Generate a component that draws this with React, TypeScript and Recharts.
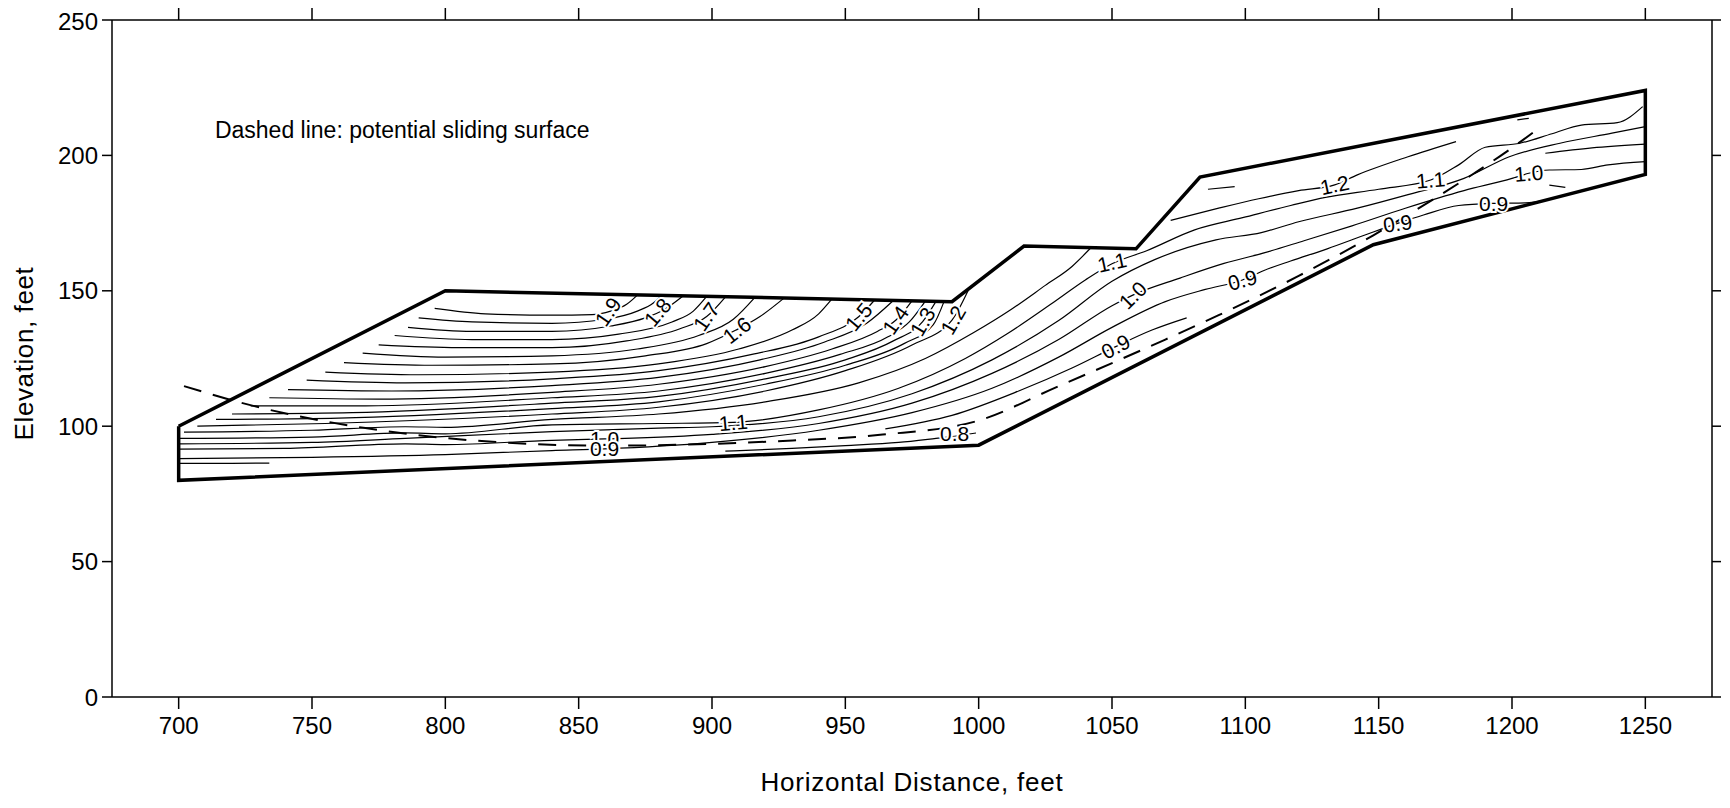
import React from 'react';
import { ComposedChart, Line, XAxis, YAxis, Scatter, Label } from 'recharts';

type Pt = [number, number];

const xTicks = [700, 750, 800, 850, 900, 950, 1000, 1050, 1100, 1150, 1200, 1250];
const yTicks = [0, 50, 100, 150, 200, 250];

// slope cross-section outline (feet)
const boundary: Pt[] = [
  [700, 100], [700, 80], [1000, 93], [1148, 167], [1250, 193], [1250, 224],
  [1083, 192], [1059, 165.5], [1017, 166.5], [990, 146], [800, 150], [700, 100],
];

// potential sliding surface (dashed)
const slidingSurface: Pt[] = [
  [702, 114.8], [728, 107.5], [770, 99.3], [815, 94.4], [860, 92.8], [923, 94.4],
  [964, 96.9], [999, 101.8], [1030, 114.8], [1070, 132], [1090, 141], [1120, 155.5],
  [1148, 170.5], [1170, 183.5], [1186, 193.5], [1198, 201.4], [1210, 210],
];

// contours of factor of safety that end on the upper surface
const upperContours: Pt[][] = [
  [[796, 143.5], [815, 141.5], [840, 141], [855, 141.2], [862, 142.5], [868, 145], [872, 148.4]],
  [[790, 140], [810, 138.5], [840, 138], [860, 139.5], [872, 142.5], [878, 145.5], [881, 148.2]],
  [[786, 136.5], [810, 135], [840, 135], [862, 137], [875, 140], [882, 143], [889, 148]],
  [[781, 133.5], [810, 132], [840, 132], [865, 134], [885, 138.5], [893, 142.5], [898, 147.9]],
  [[775, 130], [805, 129], [840, 129], [868, 131.5], [888, 136], [898, 140.5], [905, 147.7]],
  [[769, 127], [800, 125.5], [840, 126], [872, 128.5], [895, 133.5], [908, 139.5], [916, 147.5]],
  [[762, 123.5], [795, 122.5], [840, 123], [875, 126], [898, 130.5], [909, 135.5], [918, 140.5], [927, 147.3]],
  [[755, 120], [790, 119], [840, 120], [880, 123], [910, 128.5], [930, 135.5], [940, 141.5], [945, 147]],
  [[748, 117], [785, 116], [840, 117.5], [880, 120.5], [915, 126.5], [940, 133], [955, 140.4], [961, 146.6]],
  [[741, 113.5], [780, 113], [840, 115], [880, 118], [918, 124.5], [942, 131], [958, 138], [968, 146.4]],
  [[734, 110.5], [775, 110], [840, 112.5], [880, 115.5], [920, 122], [945, 128.5], [962, 135], [969, 139.2], [975, 146.3]],
  [[727, 107.5], [770, 107.5], [840, 110.5], [880, 113], [920, 119.5], [948, 126.5], [966, 133], [974, 138.5], [980, 146.2]],
  [[720, 104.5], [765, 105], [840, 108.5], [880, 111], [920, 117.5], [950, 124.5], [968, 131.5], [979, 138.6], [984, 146.1]],
  [[714, 102.5], [760, 103], [840, 106.5], [880, 109], [920, 115.5], [950, 122.5], [972, 130.5], [983, 137.5], [987, 146]],
  [[707, 100], [755, 101], [840, 104.5], [880, 107], [920, 113], [950, 120.5], [975, 130], [990, 139.2], [996, 150]],
];

// contours running along the lower part and up the slope
const lowerContours: Pt[][] = [
  [[702, 97.8], [750, 98.5], [785, 99.8], [800, 99.6], [840, 102.5], [880, 104.5], [920, 109], [955, 116], [980, 125], [998, 134.5], [1012, 143], [1025, 152], [1035, 159], [1042, 165.8]],
  [[700, 95.5], [750, 96], [785, 97.5], [800, 97.2], [840, 100.5], [880, 101], [908, 101.4], [940, 106], [970, 114], [995, 125], [1011, 134.3], [1027, 145], [1040, 154], [1050, 160], [1063, 164.8], [1081, 172.5], [1099, 177], [1117, 181.5], [1130, 184.5], [1150, 187.5], [1169.5, 190.9], [1180, 196.5], [1190, 203], [1203, 204.5], [1215, 208], [1226, 211.2], [1239.5, 212.1], [1249, 218]],
  [[700, 93.5], [750, 94], [785, 95.5], [840, 98], [880, 99.3], [900, 99.8], [940, 103.5], [975, 112], [1005, 124.5], [1030, 139], [1050, 153.5], [1066, 161.5], [1089, 168.8], [1106, 171.5], [1120, 175.5], [1142, 180.5], [1161, 185.5], [1182, 191.5], [1199, 199.5], [1218, 204.5], [1237.5, 208.2], [1250, 210.6]],
  [[700, 91.5], [740, 91.8], [785, 93.5], [800, 93.2], [840, 94.8], [859.7, 95.3], [900, 97], [940, 101], [975, 108.5], [1005, 119.5], [1030, 132], [1050, 144.5], [1057.8, 148.4], [1075.5, 154.7], [1092, 160.1], [1107, 164], [1122, 168.5], [1140, 174], [1160, 180.5], [1182, 187], [1200, 191.5], [1206.3, 193.4], [1214, 194.6], [1226, 194.8], [1236, 196.5], [1250, 197.7]],
  [[700, 88], [750, 88.5], [800, 89.5], [840, 91], [859.7, 91.6], [900, 94], [940, 98.5], [975, 105], [1005, 114], [1030, 125.5], [1050, 136.5], [1070, 146], [1085, 150.5], [1098.9, 154], [1107, 157.5], [1117, 161], [1130.7, 165.5], [1144.6, 170.5], [1157.1, 174.9], [1166.8, 178], [1180, 181.5], [1193.1, 182.3], [1205, 182.5], [1213, 183.5]],
  [[965, 99], [990, 104], [1015, 113], [1035, 121.5], [1051.4, 129.4], [1065, 135.5], [1078, 140]],
  [[905, 90.8], [930, 91.8], [950, 92.8], [970, 94], [984, 95.5], [991, 96.3], [999, 97.5]],
  [[700, 86.3], [720, 86.3], [734, 86.4]],
];

// contours in the upper bench area
const rightContours: Pt[][] = [
  [[1072, 176], [1090, 180.5], [1105, 184], [1120, 187], [1133.5, 189.1], [1142, 192.8], [1161, 199.5], [1179, 205.1]],
  [[1086, 187.5], [1096, 188.5]],
  [[1202, 213.1], [1206.3, 213.7]],
  [[1212.5, 200.8], [1230, 202.8], [1250, 204.2]],
  [[1214, 189], [1220, 188.2]],
];

const contourLabels = [
  { x: 861, y: 142.3, text: '1.9', angle: -55 },
  { x: 879.6, y: 142.1, text: '1.8', angle: -50 },
  { x: 897.8, y: 140.5, text: '1.7', angle: -55 },
  { x: 909.3, y: 135.5, text: '1.6', angle: -38 },
  { x: 955, y: 140.4, text: '1.5', angle: -50 },
  { x: 968.8, y: 139.2, text: '1.4', angle: -55 },
  { x: 979, y: 138.6, text: '1.3', angle: -60 },
  { x: 990.4, y: 139.2, text: '1.2', angle: -60 },
  { x: 908, y: 101.4, text: '1.1', angle: -5 },
  { x: 859.7, y: 95.3, text: '1.0', angle: 0 },
  { x: 859.7, y: 91.6, text: '0.9', angle: 0 },
  { x: 991, y: 97.2, text: '0.8', angle: 0 },
  { x: 1050, y: 160.5, text: '1.1', angle: -12 },
  { x: 1057.8, y: 148.4, text: '1.0', angle: -45 },
  { x: 1051.4, y: 129.4, text: '0.9', angle: -28 },
  { x: 1098.9, y: 154, text: '0.9', angle: -15 },
  { x: 1133.5, y: 189.1, text: '1.2', angle: -12 },
  { x: 1169.5, y: 190.9, text: '1.1', angle: -5 },
  { x: 1206.3, y: 193.4, text: '1.0', angle: -5 },
  { x: 1193.1, y: 182.3, text: '0.9', angle: 0 },
  { x: 1157.1, y: 174.9, text: '0.9', angle: -8 },
];

const noteText = [{ x: 713.6, y: 209.4, text: 'Dashed line: potential sliding surface' }];

const FONT = '"Liberation Sans", Arial, Helvetica, sans-serif';

const toRows = (pts: Pt[]) => pts.map(([x, y]) => ({ x, y }));

const ContourLabel = (props: any) => {
  const { cx, cy, payload } = props;
  if (cx == null || cy == null) return <g />;
  return (
    <text
      x={cx}
      y={cy}
      transform={`rotate(${payload.angle}, ${cx}, ${cy})`}
      textAnchor="middle"
      dominantBaseline="central"
      fontSize={21}
      fontFamily={FONT}
      fill="#000"
      stroke="#fff"
      strokeWidth={4}
      paintOrder="stroke"
    >
      {payload.text}
    </text>
  );
};

const NoteLabel = (props: any) => {
  const { cx, cy, payload } = props;
  if (cx == null || cy == null) return <g />;
  return (
    <text x={cx} y={cy} textAnchor="start" dominantBaseline="central" fontSize={23} fontFamily={FONT} fill="#000">
      {payload.text}
    </text>
  );
};

const XTitle = (props: any) => {
  const vb = props.viewBox || { x: 0, y: 0, width: 0, height: 0 };
  return (
    <text x={vb.x + vb.width / 2} y={vb.y + 94} textAnchor="middle" fontSize={26} letterSpacing={0.8} fontFamily={FONT} fill="#000">
      Horizontal Distance, feet
    </text>
  );
};

const YTitle = (props: any) => {
  const vb = props.viewBox || { x: 0, y: 0, width: 0, height: 0 };
  const x = vb.x + 8;
  const y = vb.y + vb.height / 2 - 5;
  return (
    <text x={x} y={y} transform={`rotate(-90, ${x}, ${y})`} textAnchor="middle" dominantBaseline="central" fontSize={26} letterSpacing={0.6} fontFamily={FONT} fill="#000">
      Elevation, feet
    </text>
  );
};

const axisLine = { stroke: '#000', strokeWidth: 1.5 };
const blank = () => '';

export default function App() {
  return (
    <div style={{ fontFamily: FONT, background: '#fff' }}>
      <ComposedChart width={1714} height={792} margin={{ top: 0, right: 0, bottom: 23, left: 8 }}>
        <XAxis
          dataKey="x"
          type="number"
          domain={[675, 1275]}
          ticks={xTicks}
          allowDataOverflow
          height={80}
          tickSize={12}
          tickMargin={8}
          axisLine={axisLine}
          tickLine={axisLine}
          tick={{ fill: '#000', fontSize: 24, fontFamily: FONT }}
        >
          <Label content={XTitle} />
        </XAxis>
        <XAxis
          xAxisId="top"
          orientation="top"
          dataKey="x"
          type="number"
          domain={[675, 1275]}
          ticks={xTicks}
          allowDataOverflow
          height={12}
          tickSize={13}
          axisLine={axisLine}
          tickLine={axisLine}
          tickFormatter={blank}
        />
        <YAxis
          dataKey="y"
          type="number"
          domain={[0, 250]}
          ticks={yTicks}
          allowDataOverflow
          width={96}
          tickSize={10}
          tickMargin={4}
          axisLine={axisLine}
          tickLine={axisLine}
          tick={{ fill: '#000', fontSize: 24, fontFamily: FONT }}
        >
          <Label content={YTitle} />
        </YAxis>
        <YAxis
          yAxisId="right"
          orientation="right"
          dataKey="y"
          type="number"
          domain={[0, 250]}
          ticks={yTicks}
          allowDataOverflow
          width={10}
          tickSize={9}
          axisLine={axisLine}
          tickLine={axisLine}
          tickFormatter={blank}
        />

        {[...upperContours, ...lowerContours, ...rightContours].map((c, i) => (
          <Line
            key={`c${i}`}
            data={toRows(c)}
            dataKey="y"
            type="monotone"
            stroke="#000"
            strokeWidth={1.2}
            dot={false}
            activeDot={false}
            legendType="none"
            isAnimationActive={false}
          />
        ))}

        <Scatter data={contourLabels} dataKey="y" shape={ContourLabel} isAnimationActive={false} legendType="none" />

        <Line
          data={toRows(slidingSurface)}
          dataKey="y"
          type="monotone"
          stroke="#000"
          strokeWidth={2}
          strokeDasharray="18 12"
          dot={false}
          activeDot={false}
          legendType="none"
          isAnimationActive={false}
        />
        <Line
          data={toRows(boundary)}
          dataKey="y"
          type="linear"
          stroke="#000"
          strokeWidth={3.5}
          strokeLinejoin="miter"
          dot={false}
          activeDot={false}
          legendType="none"
          isAnimationActive={false}
        />
        <Scatter data={noteText} dataKey="y" shape={NoteLabel} isAnimationActive={false} legendType="none" />
      </ComposedChart>
    </div>
  );
}
